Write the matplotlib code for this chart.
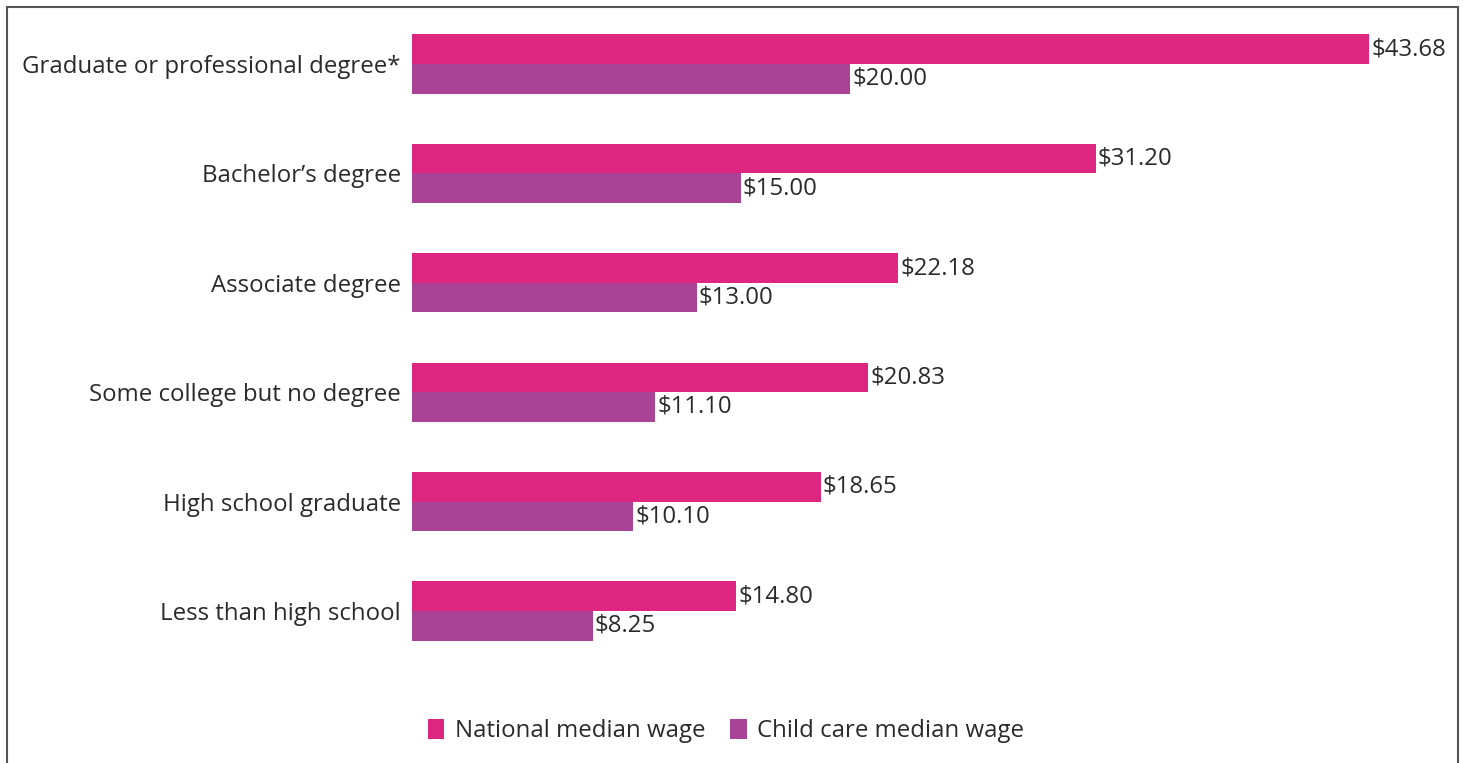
import matplotlib
matplotlib.use("Agg")
import matplotlib.pyplot as plt
from matplotlib.patches import Rectangle, Patch

plt.rcParams["font.family"] = ["Open Sans", "DejaVu Sans"]

# Education levels, listed bottom to top
categories = [
    "Less than high school",
    "High school graduate",
    "Some college but no degree",
    "Associate degree",
    "Bachelor\u2019s degree",
    "Graduate or professional degree*",
]
national_wage = [14.80, 18.65, 20.83, 22.18, 31.20, 43.68]
childcare_wage = [8.25, 10.10, 11.10, 13.00, 15.00, 20.00]
series_names = ["National median wage", "Child care median wage"]

PINK = "#DD2680"
PURPLE = "#A84396"
TEXT = "#2a2a2a"
FS = 17.3

W, H = 1463, 763
fig = plt.figure(figsize=(W / 100, H / 100), dpi=100)

# plot area in pixel terms
left_px, right_px = 412, 1448
top_px, bottom_px = 9.3, 665.7
ax = fig.add_axes([left_px / W, 1 - bottom_px / H,
                   (right_px - left_px) / W, (bottom_px - top_px) / H])

bar_h = 0.27
ypos = list(range(len(categories)))
nat_bars = ax.barh([y + bar_h / 2 for y in ypos], national_wage, height=bar_h,
                   color=PINK, edgecolor="none")
cc_bars = ax.barh([y - bar_h / 2 for y in ypos], childcare_wage, height=bar_h,
                  color=PURPLE, edgecolor="none")

for bars, vals in ((nat_bars, national_wage), (cc_bars, childcare_wage)):
    for b, v in zip(bars, vals):
        ax.annotate(f"${v:.2f}", xy=(v, b.get_y() + b.get_height() / 2),
                    xytext=(1.5, 0), textcoords="offset points",
                    ha="left", va="center", fontsize=FS, color=TEXT)

ax.set_xlim(0, (right_px - left_px) / 21.91)
ax.set_ylim(-0.5, len(categories) - 0.5)
ax.set_yticks(ypos)
ax.set_yticklabels(categories, fontsize=FS, color=TEXT)
ax.tick_params(axis="y", length=0, pad=8)
ax.set_xticks([])
for s in ax.spines.values():
    s.set_visible(False)

handles = [Patch(facecolor=PINK, edgecolor="none"),
           Patch(facecolor=PURPLE, edgecolor="none")]
leg = fig.legend(handles, series_names, loc="center",
                 bbox_to_anchor=(726 / W, 1 - 731 / H), ncol=2, frameon=False,
                 fontsize=FS, handlelength=0.7, handleheight=0.95,
                 handletextpad=0.45, columnspacing=1.0)
for t in leg.get_texts():
    t.set_color(TEXT)

# outer frame around the chart (open at the bottom edge of the image)
fig.patches.append(Rectangle((6.5 / W, -0.05), (1458 - 6.5) / W, 1.05 - 7.5 / H,
                             transform=fig.transFigure, fill=False,
                             edgecolor="#555555", linewidth=1.5))

fig.savefig("out.png", dpi=100)
